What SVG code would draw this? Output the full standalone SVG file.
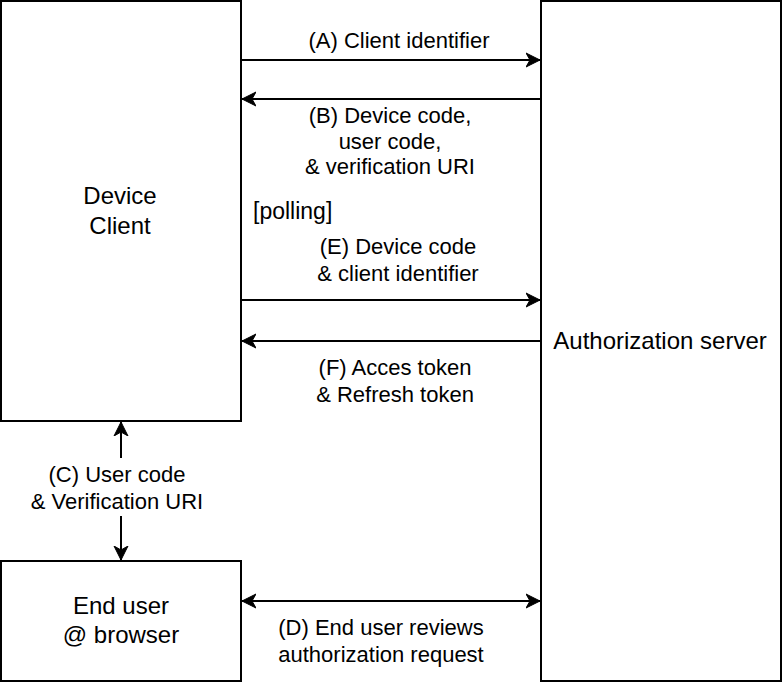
<svg xmlns="http://www.w3.org/2000/svg" width="782" height="682" viewBox="0 0 782 682">
<style>
.box{fill:#fff;stroke:#000;stroke-width:2}
.ln{stroke:#000;stroke-width:2;fill:none}
text{font-family:"Liberation Sans",Arial,Helvetica,sans-serif;font-size:22px;fill:#000}
.n{font-size:24px}
.c{text-anchor:middle}
</style>
<defs>
<marker id="ah" markerUnits="userSpaceOnUse" viewBox="0 -8 15 16" refX="14" refY="0" markerWidth="15" markerHeight="16" orient="auto-start-reverse">
<path d="M0,-7 L14,0 L0,7 L4,0 Z" fill="#000" stroke="#000" stroke-width="1"/>
</marker>
</defs>
<rect width="782" height="682" fill="#fff"/>
<g id="device-client">
<rect class="box" x="1" y="1" width="240" height="420"/>
<text class="c n" x="120" y="204">Device</text>
<text class="c n" x="120" y="234">Client</text>
</g>
<g id="authorization-server">
<rect class="box" x="541" y="1" width="240" height="680"/>
<text class="c n" x="660" y="349">Authorization server</text>
</g>
<g id="end-user">
<rect class="box" x="1" y="561" width="240" height="120"/>
<text class="c n" x="121" y="614">End user</text>
<text class="c n" x="121" y="643">@ browser</text>
</g>
<g id="connectors">
<line class="ln" x1="241" y1="60" x2="540" y2="60" marker-end="url(#ah)"/>
<line class="ln" x1="541" y1="99" x2="242" y2="99" marker-end="url(#ah)"/>
<line class="ln" x1="241" y1="300" x2="540" y2="300" marker-end="url(#ah)"/>
<line class="ln" x1="541" y1="341" x2="242" y2="341" marker-end="url(#ah)"/>
<line class="ln" x1="121" y1="422" x2="121" y2="560" marker-start="url(#ah)" marker-end="url(#ah)"/>
<line class="ln" x1="242" y1="601" x2="540" y2="601" marker-start="url(#ah)" marker-end="url(#ah)"/>
<text class="c" x="399" y="48">(A) Client identifier</text>
<text class="c" x="390" y="123">(B) Device code,</text>
<text class="c" x="390" y="149">user code,</text>
<text class="c" x="390" y="174">&amp; verification URI</text>
<text x="253" y="219" style="font-size:23px">[polling]</text>
<text class="c" x="398" y="254">(E) Device code</text>
<text class="c" x="398" y="281">&amp; client identifier</text>
<text class="c" x="395" y="375">(F) Acces token</text>
<text class="c" x="395" y="402">&amp; Refresh token</text>
<rect x="26" y="458" width="184" height="58" fill="#fff"/>
<text class="c" x="117" y="482">(C) User code</text>
<text class="c" x="117" y="509">&amp; Verification URI</text>
<text class="c" x="381" y="635">(D) End user reviews</text>
<text class="c" x="381" y="662">authorization request</text>
</g>
</svg>
